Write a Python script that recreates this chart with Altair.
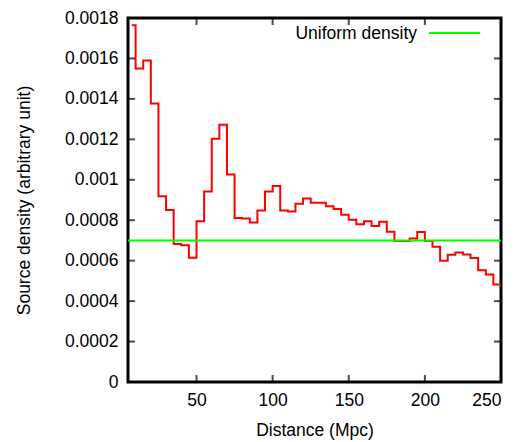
import altair as alt
import pandas as pd

# Histogram step edges (left edge of each step) and densities
bin_left = [7.5, 10, 15, 20, 25, 30, 35, 40, 45, 50, 55, 60, 65, 70, 75, 80,
            85, 90, 95, 100, 105, 110, 115, 120, 125, 130, 135, 140, 145, 150,
            155, 160, 165, 170, 175, 180, 185, 190, 195, 200, 205, 210, 215,
            220, 225, 230, 235, 240, 245]
density = [0.001764, 0.00155, 0.00159, 0.001377, 0.000918, 0.000851, 0.000682,
           0.000676, 0.000614, 0.000795, 0.000942, 0.001203, 0.001272, 0.001026,
           0.000811, 0.000809, 0.000789, 0.000848, 0.000942, 0.000969, 0.000848,
           0.000843, 0.000881, 0.000908, 0.000887, 0.000886, 0.000869, 0.000856,
           0.000827, 0.000802, 0.000780, 0.000795, 0.000771, 0.000793, 0.000743,
           0.000697, 0.000697, 0.000710, 0.000742, 0.000697, 0.000669, 0.000600,
           0.000629, 0.000640, 0.000630, 0.000613, 0.000553, 0.000531, 0.000482]
x_end = 250
x_domain = [5, 250]
y_domain = [0, 0.0018]

uniform_density = [0.0007]
uniform_label = ["Uniform density"]

x_ticks = [50, 100, 150, 200, 250]
y_ticks = [0, 0.0002, 0.0004, 0.0006, 0.0008, 0.001, 0.0012, 0.0014, 0.0016, 0.0018]

FONT = "Liberation Sans"
FS = 17.5
GREEN = "#00ff00"
RED = "#ff0000"

step_df = pd.DataFrame({"x": bin_left + [x_end], "y": density + [density[-1]]})
uni_df = pd.DataFrame({"y": uniform_density, "label": uniform_label})
xt_df = pd.DataFrame({"x": x_ticks})
yt_df = pd.DataFrame({"y": y_ticks})

xscale = alt.Scale(domain=x_domain, nice=False, zero=False)
yscale = alt.Scale(domain=y_domain, nice=False, zero=True)

step = alt.Chart(step_df).mark_line(
    interpolate="step-after", color=RED, strokeWidth=2
).encode(
    x=alt.X("x:Q", scale=xscale,
            axis=alt.Axis(title="Distance (Mpc)", values=x_ticks, format="d",
                          labelPadding=9, titlePadding=13)),
    y=alt.Y("y:Q", scale=yscale,
            axis=alt.Axis(title="Source density (arbitrary unit)", values=y_ticks,
                          format="~g", labelPadding=10, titlePadding=31)),
)

uni = alt.Chart(uni_df).mark_rule(strokeWidth=2, color=GREEN).encode(
    y=alt.Y("y:Q", scale=yscale),
)

# key (gnuplot style: label on the left, line sample on the right)
key_text = alt.Chart(uni_df).mark_text(
    align="right", baseline="middle", font=FONT, fontSize=FS, color="black"
).encode(text="label:N", x=alt.value(289), y=alt.value(16))
key_line = alt.Chart(uni_df).mark_rule(strokeWidth=2, color=GREEN).encode(
    x=alt.value(301), x2=alt.value(352), y=alt.value(15))

tick_style = dict(color="black", thickness=2, size=14, clip=True)

bottom_ticks = alt.Chart(xt_df).mark_tick(orient="vertical", **tick_style).encode(
    x=alt.X("x:Q", scale=xscale), y=alt.datum(y_domain[0]))
top_ticks = alt.Chart(xt_df).mark_tick(orient="vertical", **tick_style).encode(
    x=alt.X("x:Q", scale=xscale), y=alt.datum(y_domain[1]))
left_ticks = alt.Chart(yt_df).mark_tick(orient="horizontal", **tick_style).encode(
    y=alt.Y("y:Q", scale=yscale), x=alt.datum(x_domain[0]))
right_ticks = alt.Chart(yt_df).mark_tick(orient="horizontal", **tick_style).encode(
    y=alt.Y("y:Q", scale=yscale), x=alt.datum(x_domain[1]))

chart = alt.layer(step, uni, bottom_ticks, top_ticks, left_ticks, right_ticks,
                  key_text, key_line).properties(
    width=373, height=364,
    autosize=alt.AutoSizeParams(type="none"),
    padding={"left": 120, "top": 10, "right": 10, "bottom": 58},
    background="white",
).configure_view(
    stroke="black", strokeWidth=3
).configure_axis(
    domain=False, ticks=False, tickSize=0, grid=False,
    labelFont=FONT, labelFontSize=FS, labelColor="black",
    titleFont=FONT, titleFontSize=FS, titleColor="black", titleFontWeight="normal",
)

chart.save("out.html", embed_options={"renderer": "svg", "actions": False})
